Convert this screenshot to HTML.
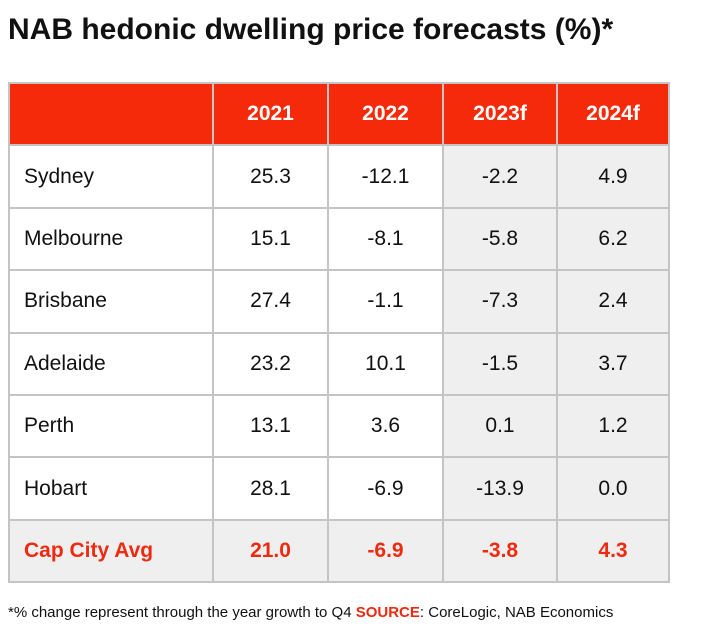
<!DOCTYPE html>
<html><head><meta charset="utf-8"><style>
html,body{margin:0;padding:0;background:#fff;width:702px;height:628px;overflow:hidden;font-family:"Liberation Sans",sans-serif;}
h1{position:absolute;left:8px;top:13px;margin:0;font-size:30px;font-weight:bold;color:#111;letter-spacing:0px;}
table{position:absolute;left:8px;top:82px;border-collapse:collapse;}
td,th{border:2px solid #c4c4c4;height:60.4px;padding:0;font-size:21px;color:#111;text-align:center;font-weight:normal;}
th{background:#f52a0a;color:#fff;font-weight:bold;font-size:21px;}
td.l{text-align:left;padding-left:14px;}
.f{background:#efefef;}
tr.avg td{background:#efefef;color:#ee2a10;font-weight:bold;}
.foot{position:absolute;left:8px;top:604px;font-size:15px;color:#111;}
.foot b{color:#ee2a10;}
</style></head><body>
<h1>NAB hedonic dwelling price forecasts (%)*</h1>
<table>
<colgroup><col style="width:204px"><col style="width:115px"><col style="width:115px"><col style="width:114px"><col style="width:112px"></colgroup>
<tr><th></th><th>2021</th><th>2022</th><th>2023f</th><th>2024f</th></tr>
<tr><td class="l">Sydney</td><td>25.3</td><td>-12.1</td><td class="f">-2.2</td><td class="f">4.9</td></tr>
<tr><td class="l">Melbourne</td><td>15.1</td><td>-8.1</td><td class="f">-5.8</td><td class="f">6.2</td></tr>
<tr><td class="l">Brisbane</td><td>27.4</td><td>-1.1</td><td class="f">-7.3</td><td class="f">2.4</td></tr>
<tr><td class="l">Adelaide</td><td>23.2</td><td>10.1</td><td class="f">-1.5</td><td class="f">3.7</td></tr>
<tr><td class="l">Perth</td><td>13.1</td><td>3.6</td><td class="f">0.1</td><td class="f">1.2</td></tr>
<tr><td class="l">Hobart</td><td>28.1</td><td>-6.9</td><td class="f">-13.9</td><td class="f">0.0</td></tr>
<tr class="avg"><td class="l">Cap City Avg</td><td>21.0</td><td>-6.9</td><td>-3.8</td><td>4.3</td></tr>
</table>
<div class="foot">*% change represent through the year growth to Q4 <b>SOURCE</b>: CoreLogic, NAB Economics</div>
</body></html>
